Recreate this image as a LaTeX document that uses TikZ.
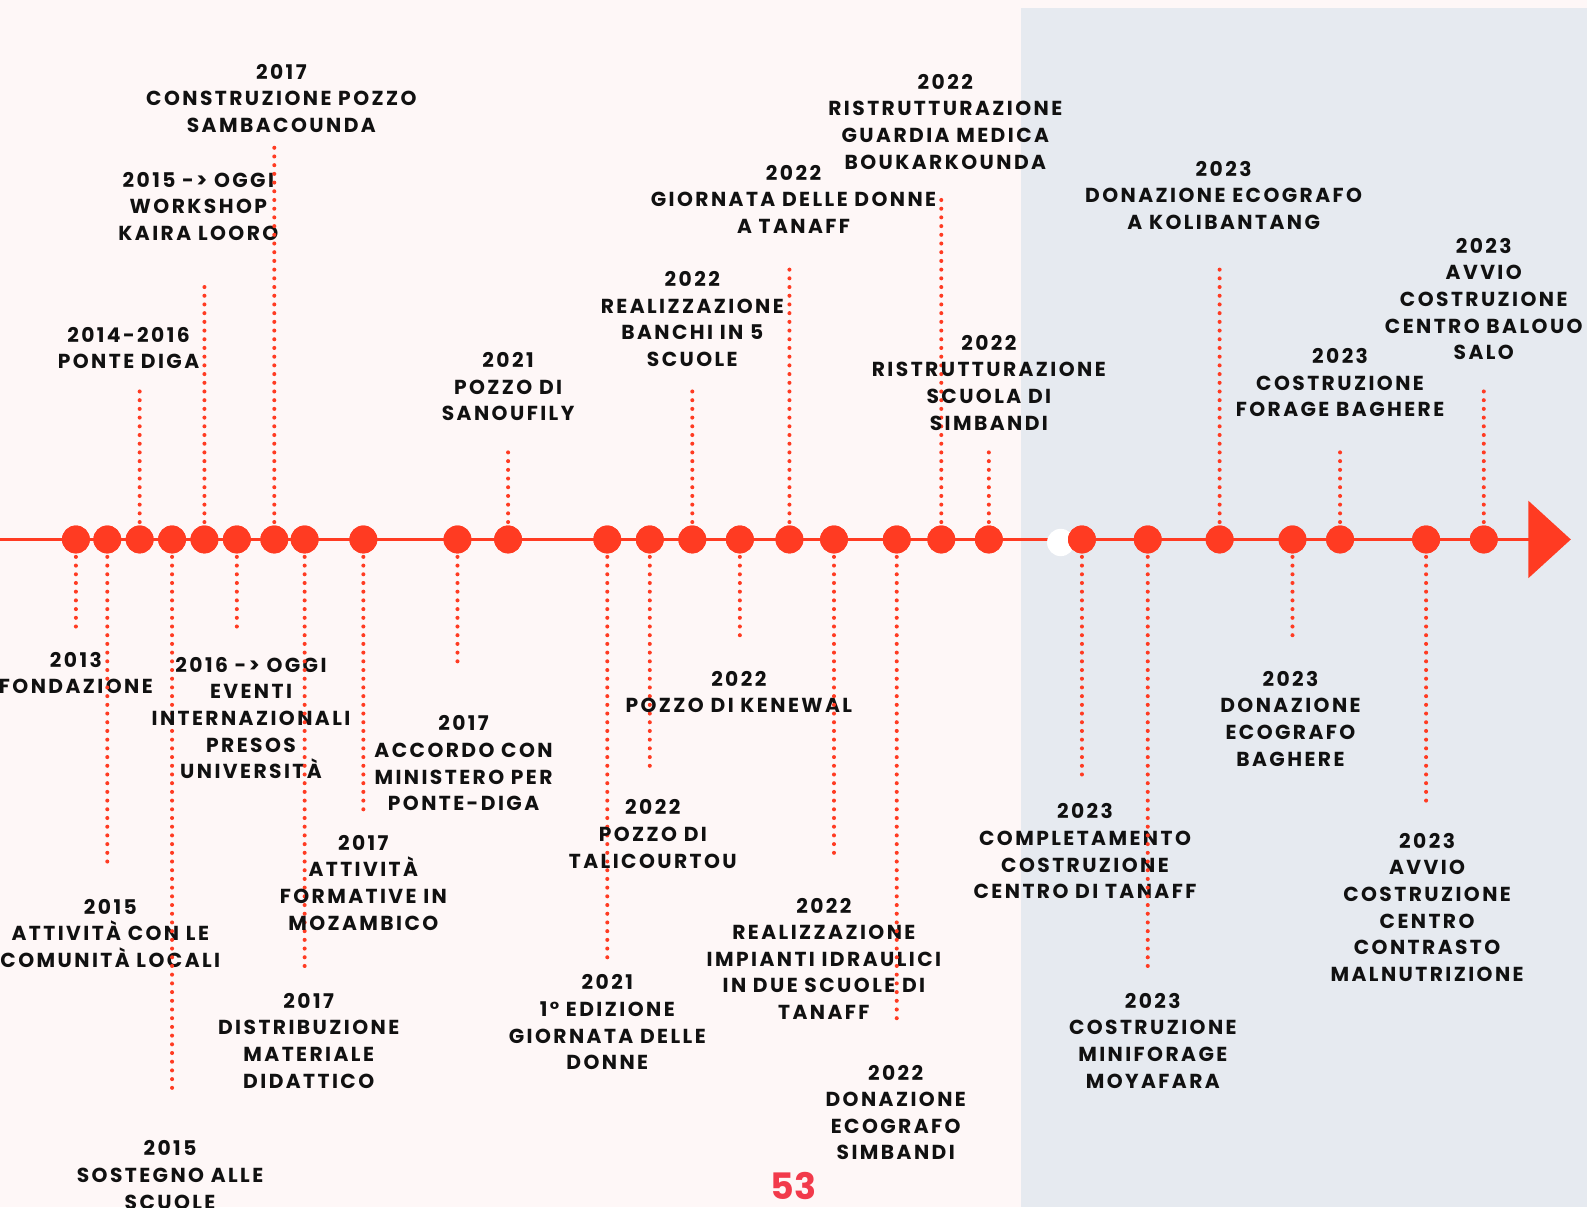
\documentclass[tikz,border=0pt]{standalone}
\usepackage{fontspec}
\setmainfont{Poppins}
\newfontfamily\evfont{Poppins}[LetterSpace=12]
\usetikzlibrary{arrows.meta}

\definecolor{tlred}{HTML}{FF3B22}
\definecolor{bgpink}{HTML}{FEF7F7}
\definecolor{panelgray}{HTML}{E6EAF0}
\definecolor{tlink}{HTML}{111111}
\definecolor{pagered}{HTML}{F23A4B}

\tikzset{
    evdot/.style={circle,fill=tlred,minimum size=27.5pt,inner sep=0pt},
    evstem/.style={tlred,line width=4pt,line cap=round,dash pattern=on 0pt off 8.6pt},
    evlabel/.style={anchor=north,align=center,inner sep=0pt,text=tlink,
        font=\evfont\bfseries\fontsize{20}{26.3}\selectfont},
    axis/.style={tlred,line width=3pt}
}

\begin{document}
\begin{tikzpicture}[x=1pt,y=-1pt]
    \useasboundingbox (0,0) rectangle (1568,1193);
    \fill[bgpink] (0,0) rectangle (1568,1193);
    \fill[panelgray] (1009,8) rectangle (1568,1193);

    \coordinate (axis0) at (0,533);
    \coordinate (axis1) at (1552,533);
    \draw[axis,-{Triangle[length=42pt,width=76pt]}] (axis0) -- (axis1);

    \fill[white] (1048,536) circle (13.5pt);

    \foreach \dx/\ey/\lx/\ty/\txt [count=\i] in {
        75/620/75/651/{2013\\FONDAZIONE},
        106/857/109/895/{2015\\ATTIVITÀ CON LE\\COMUNITÀ LOCALI},
        138/380/127/330/{2014-2016\\PONTE DIGA},
        170/1075/168/1134/{2015\\SOSTEGNO ALLE\\SCUOLE},
        202/280/196/177/{2015 -> OGGI\\WORKSHOP\\KAIRA LOORO},
        234/622/248/656/{2016 -> OGGI\\EVENTI\\INTERNAZIONALI\\PRESOS\\UNIVERSITÀ},
        271/140/278/70/{2017\\CONSTRUZIONE POZZO\\SAMBACOUNDA},
        301/955/305/988/{2017\\DISTRIBUZIONE\\MATERIALE\\DIDATTICO},
        359/800/359/832/{2017\\ATTIVITÀ\\FORMATIVE IN\\MOZAMBICO},
        452/660/458/714/{2017\\ACCORDO CON\\MINISTERO PER\\PONTE-DIGA},
        502/440/502/355/{2021\\POZZO DI\\SANOUFILY},
        600/950/600/970/{2021\\1° EDIZIONE\\GIORNATA DELLE\\DONNE},
        642/762/645/797/{2022\\POZZO DI\\TALICOURTOU},
        684/383/684/275/{2022\\REALIZZAZIONE\\BANCHI IN 5\\SCUOLE},
        731/636/730/670/{2022\\POZZO DI KENEWAL},
        780/258/784/170/{2022\\GIORNATA DELLE DONNE\\A TANAFF},
        824/850/814/894/{2022\\REALIZZAZIONE\\IMPIANTI IDRAULICI\\IN DUE SCUOLE DI\\TANAFF},
        886/1008/885/1059/{2022\\DONAZIONE\\ECOGRAFO\\SIMBANDI},
        930/193/934/80/{2022\\RISTRUTTURAZIONE\\GUARDIA MEDICA\\BOUKARKOUNDA},
        977/440/977/338/{2022\\RISTRUTTURAZIONE\\SCUOLA DI\\SIMBANDI},
        1069/766/1072/801/{2023\\COMPLETAMENTO\\COSTRUZIONE\\CENTRO DI TANAFF},
        1134/955/1139/988/{2023\\COSTRUZIONE\\MINIFORAGE\\MOYAFARA},
        1205/258/1209/166/{2023\\DONAZIONE ECOGRAFO\\A KOLIBANTANG},
        1277/636/1275/670/{2023\\DONAZIONE\\ECOGRAFO\\BAGHERE},
        1324/440/1324/351/{2023\\COSTRUZIONE\\FORAGE BAGHERE},
        1409/798/1410/830/{2023\\AVVIO\\COSTRUZIONE\\CENTRO\\CONTRASTO\\MALNUTRIZIONE},
        1466/380/1466/242/{2023\\AVVIO\\COSTRUZIONE\\CENTRO BALOUO\\SALO}} {
        \coordinate (e\i) at (\dx,\ey);
        \node[evdot] (d\i) at (\dx,533) {};
        \draw[evstem] (d\i.center) -- (e\i);
        \node[evdot] at (d\i) {};
        \node[evlabel] (t\i) at (\lx,\ty-7) {\txt};
    }

    \node[text=pagered,font=\bfseries\fontsize{36}{40}\selectfont] (pagenum) at (784,1172) {53};
\end{tikzpicture}
\end{document}
